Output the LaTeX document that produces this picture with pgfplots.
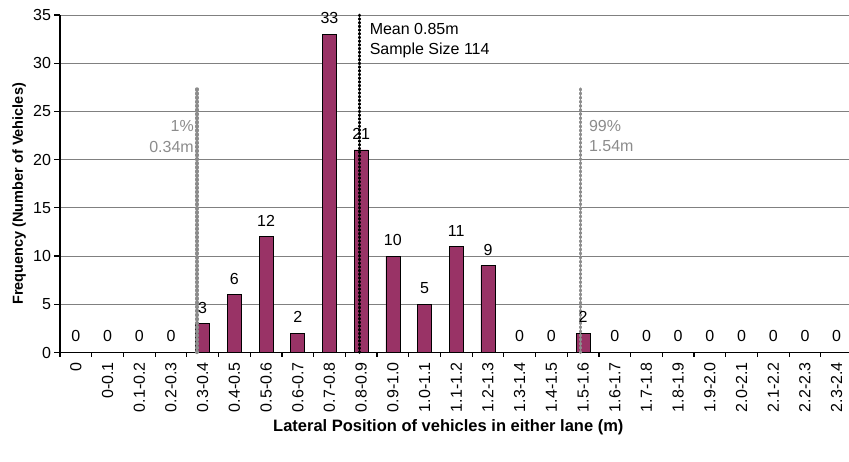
\documentclass[border=0pt]{standalone}
\usepackage{pgfplots}
\pgfplotsset{compat=1.18}
\usepackage{fontspec}
\setmainfont{Liberation Sans}
\definecolor{barc}{HTML}{993366}
\definecolor{gridc}{HTML}{808080}
\definecolor{pctc}{HTML}{8C8C8C}
\begin{document}
\begin{tikzpicture}
\path[use as bounding box] (-60pt,-109.5pt) rectangle (789pt,352.5pt);
\begin{axis}[
  at={(0,0)}, anchor=south west,
  scale only axis, width=792.5pt, height=337.5pt,
  xmin=-0.5, xmax=24.5, ymin=0, ymax=35,
  enlargelimits=false, clip=false,
  axis x line=bottom, axis y line=left,
  axis line style={-, black, line width=1.6pt},
  ytick={0,5,...,35},
  ymajorgrids, grid style={gridc, line width=0.9pt},
  xtick={0,...,24},
  xticklabels={0,0-0.1,0.1-0.2,0.2-0.3,0.3-0.4,0.4-0.5,0.5-0.6,0.6-0.7,0.7-0.8,0.8-0.9,0.9-1.0,1.0-1.1,1.1-1.2,1.2-1.3,1.3-1.4,1.4-1.5,1.5-1.6,1.6-1.7,1.7-1.8,1.8-1.9,1.9-2.0,2.0-2.1,2.1-2.2,2.2-2.3,2.3-2.4},
  minor xtick={-0.5,0.5,...,24.5},
  major x tick style={draw=none},
  minor x tick style={black, line width=1.2pt},
  y tick style={black, line width=1.2pt},
  tick align=outside, major tick length=5.5pt, minor tick length=4.5pt,
  /pgf/number format/assume math mode=true,
  yticklabel style={font=\fontsize{16}{19}\selectfont},
  xticklabel style={font=\fontsize{16}{19}\selectfont, rotate=90, anchor=east, inner sep=0pt},
  xticklabel shift=4pt,
  xlabel={Lateral Position of vehicles in either lane (m)},
  ylabel={Frequency (Number of Vehicles)},
  xlabel style={font=\bfseries\fontsize{16.5}{19}\selectfont, at={(axis description cs:0.49,-0.222)}, anchor=center},
  ylabel style={font=\bfseries\fontsize{14.5}{17}\selectfont, at={(axis description cs:-0.0517,0.47)}, anchor=center},
  bar width=14pt,
]
\addplot[ybar, bar shift=0pt, fill=barc, draw=black, line width=0.7pt,
  nodes near coords,
  every node near coord/.append style={font=\fontsize{16}{19}\selectfont, black, anchor=south, inner sep=0pt, yshift=10pt}]
 coordinates {
(0,0) (1,0) (2,0) (3,0) (4,3) (5,6) (6,12) (7,2) (8,33) (9,21) (10,10) (11,5) (12,11)
(13,9) (14,0) (15,0) (16,2) (17,0) (18,0) (19,0) (20,0) (21,0) (22,0) (23,0) (24,0)};
\addplot[sharp plot, no marks, pctc, line width=3.2pt, line cap=round, dash pattern=on 1.2pt off 2.9pt] coordinates {(3.82,0) (3.82,27.6)};
\addplot[sharp plot, no marks, pctc, line width=3.2pt, line cap=round, dash pattern=on 1.2pt off 2.9pt] coordinates {(15.93,0) (15.93,27.6)};
\addplot[sharp plot, no marks, black, line width=2.6pt, line cap=round, dash pattern=on 1pt off 2.7pt] coordinates {(8.95,0) (8.95,35)};
\node[anchor=east, xshift=-3pt, text=pctc, inner sep=0pt, font=\fontsize{16}{19}\selectfont] at (axis cs:3.82,23.49) {1\%};
\node[anchor=east, xshift=-3pt, text=pctc, inner sep=0pt, font=\fontsize{16}{19}\selectfont] at (axis cs:3.82,21.35) {0.34m};
\node[anchor=west, xshift=8pt, text=pctc, inner sep=0pt, font=\fontsize{16}{19}\selectfont] at (axis cs:15.93,23.52) {99\%};
\node[anchor=west, xshift=8pt, text=pctc, inner sep=0pt, font=\fontsize{16}{19}\selectfont] at (axis cs:15.93,21.45) {1.54m};
\node[anchor=west, xshift=10pt, text=black, inner sep=0pt, font=\fontsize{16}{19}\selectfont] at (axis cs:8.95,33.53) {Mean 0.85m};
\node[anchor=west, xshift=10pt, text=black, inner sep=0pt, font=\fontsize{16}{19}\selectfont] at (axis cs:8.95,31.3) {Sample Size 114};
\end{axis}
\end{tikzpicture}
\end{document}
